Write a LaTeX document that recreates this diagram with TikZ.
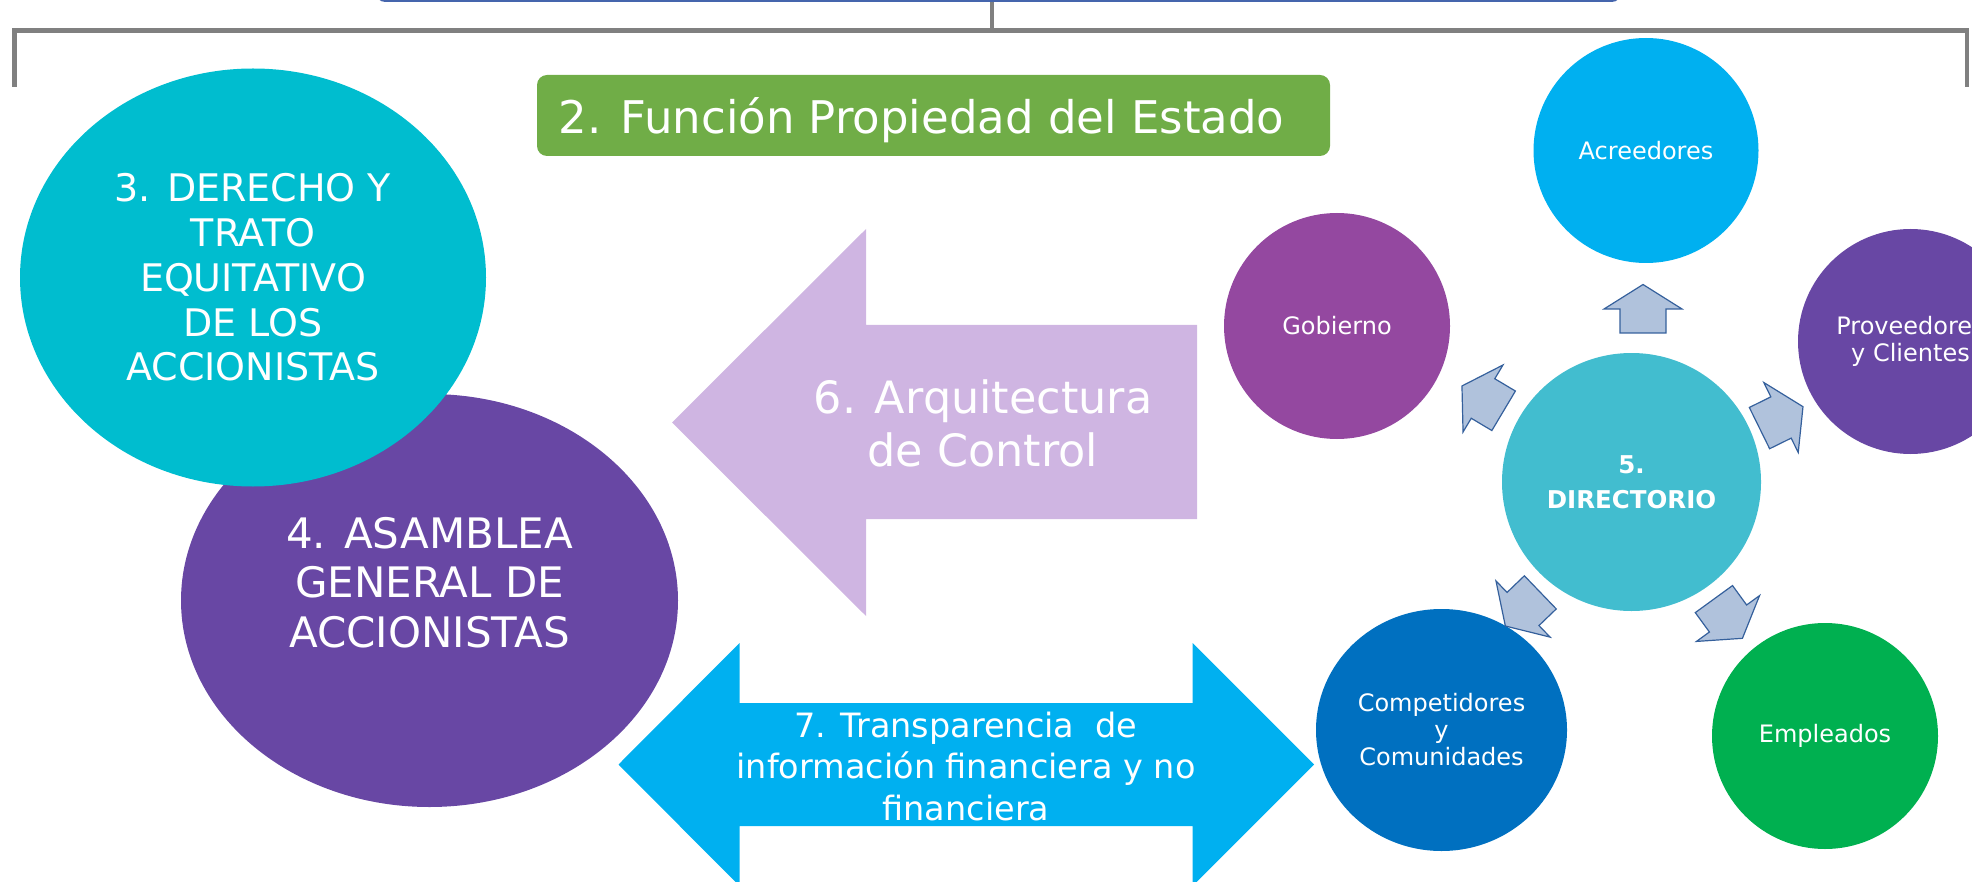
\documentclass[tikz,border=0pt]{standalone}
\usepackage{fontspec}
\setmainfont{DejaVu Sans}
\usetikzlibrary{shapes.geometric}
\definecolor{cGreen}{HTML}{70AD47}
\definecolor{cTeal}{HTML}{00BDCF}
\definecolor{cPurple}{HTML}{6847A4}
\definecolor{cLav}{HTML}{CFB5E2}
\definecolor{cBlue}{HTML}{00B0F0}
\definecolor{cGob}{HTML}{9448A0}
\definecolor{cDir}{HTML}{42BDCF}
\definecolor{cComp}{HTML}{0070C0}
\definecolor{cEmp}{HTML}{00B050}
\definecolor{cArrFill}{HTML}{B0C2DC}
\definecolor{cArrLine}{HTML}{35609C}
\definecolor{cGray}{HTML}{808080}
\definecolor{cTop}{HTML}{4565AD}
\begin{document}
\begin{tikzpicture}[x=1pt,y=-1pt,
  oval/.style={ellipse, inner sep=0pt, text=white, align=center},
  txt/.style={text=white, align=center, inner sep=0pt},
  small/.style={font=\fontsize{24}{27}\selectfont},
  bus/.style={draw=cGray, line width=4.5pt},
  smallarrow/.pic={
    \filldraw[fill=cArrFill, draw=cArrLine, line width=1.2pt, line join=miter]
      (24.5pt,0pt) -- (0pt,39pt) -- (0pt,23pt) -- (-24pt,23pt) -- (-24pt,-23pt)
      -- (0pt,-23pt) -- (0pt,-39pt) -- cycle;
  }
]
\useasboundingbox (0,0) rectangle (1972,882);
\clip (0,0) rectangle (1972,882);

% top box and bus lines
\node[draw=cTop, line width=2.2pt, rounded corners=8, minimum width=1243, minimum height=60, inner sep=0pt] (topbox) at (998.5,-29.2) {};
\coordinate (busTop) at (992,1.9);
\coordinate (busMid) at (992,30.5);
\coordinate (busL) at (14.3,87);
\coordinate (busR) at (1967,87);
\draw[bus] (busTop) -- (busMid);
\draw[bus] (busL) |- (busMid) -| (busR);

% left ellipses
\node[oval, fill=cPurple, minimum width=497, minimum height=413] (asamblea) at (429.5,600.5) {};
\node[txt, font=\fontsize{42}{49.5}\selectfont] (asambleaText) at (429.5,582.5) {4. ASAMBLEA\\GENERAL DE\\ACCIONISTAS};
\node[oval, fill=cTeal, minimum width=466, minimum height=418, font=\fontsize{38}{44.7}\selectfont] (derecho) at (253,277.5) {3. DERECHO Y\\TRATO\\EQUITATIVO\\DE LOS\\ACCIONISTAS};

% green box
\node[fill=cGreen, rounded corners=10, minimum width=793, minimum height=81, inner sep=0pt] (funcion) at (933.5,115.5) {};
\node[txt, font=\fontsize{45}{54}\selectfont] (funcionText) at (921.5,119.7) {2. Función Propiedad del Estado};

% lavender arrow
\fill[cLav] (672,422.5) -- (866,229) -- (866,325) -- (1197,325) -- (1197,519) -- (866,519) -- (866,616) -- cycle;
\node[txt, font=\fontsize{44.5}{53}\selectfont] (control) at (983,423.5) {6. Arquitectura\\de Control};

% blue double arrow
\fill[cBlue] (618.5,764.5) -- (739.5,643) -- (739.5,703) -- (1192.5,703) -- (1192.5,643) -- (1314,764.5) -- (1192.5,886) -- (1192.5,826) -- (739.5,826) -- (739.5,886) -- cycle;
\node[txt, font=\fontsize{33.5}{41.3}\selectfont] (transparencia) at (966,766.5) {7. Transparencia\ \ de\\información financiera y no\\financiera};

% stakeholder circles
\node[oval, fill=cBlue, minimum width=225, minimum height=225, small] (acreedores) at (1646,150.5) {Acreedores};
\node[oval, fill=cGob, minimum width=226, minimum height=226, small] (gobierno) at (1337,326) {Gobierno};
\node[oval, fill=cPurple, minimum width=225, minimum height=225, small] (proveedores) at (1910.5,341.5) {Proveedores\\y Clientes};
\node[oval, fill=cDir, minimum width=259, minimum height=258, font=\bfseries\fontsize{24.5}{35}\selectfont] (directorio) at (1631.5,482) {5.\\DIRECTORIO};
\node[oval, fill=cComp, minimum width=251, minimum height=242, small] (competidores) at (1441.5,730) {Competidores\\y\\Comunidades};
\node[oval, fill=cEmp, minimum width=226, minimum height=226, small] (empleados) at (1825,736) {Empleados};

% small arrows from the board
\pic[rotate=90] at (1643,309) {smallarrow};
\pic[rotate=149.2] at (1483,398.5) {smallarrow};
\pic[rotate=26.2] at (1781,417.5) {smallarrow};
\pic[rotate=223.9] at (1523,609) {smallarrow};
\pic[rotate=-54] at (1728,618.5) {smallarrow};
\end{tikzpicture}
\end{document}
